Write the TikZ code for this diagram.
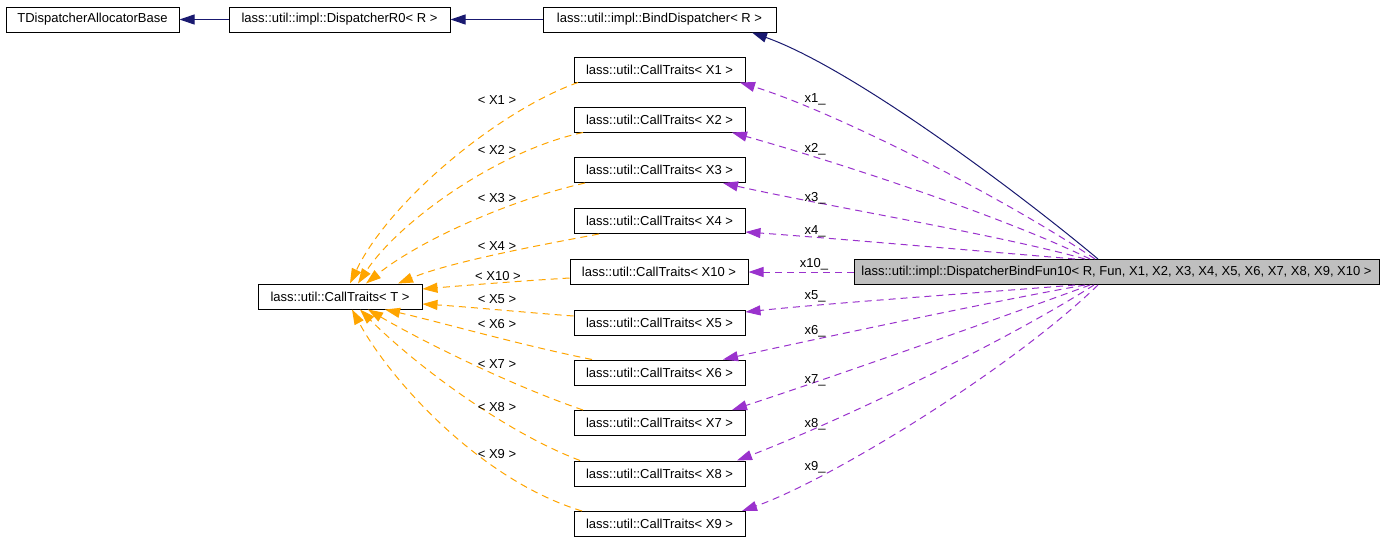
\documentclass[tikz,border=0pt]{standalone}
\usepackage{fontspec}
\setmainfont{Liberation Sans}
\usetikzlibrary{arrows.meta,calc}
\definecolor{navyc}{HTML}{191970}
\definecolor{orangec}{HTML}{FFA500}
\definecolor{purplec}{HTML}{9A32CD}
\definecolor{fillg}{HTML}{BFBFBF}
\begin{document}
\begin{tikzpicture}[x=1pt,y=-1pt,
  box/.style={draw=black, line width=1pt, inner sep=0pt, minimum height=25pt, font=\fontsize{13}{15}\selectfont, anchor=center},
  lbl/.style={inner sep=0pt, font=\fontsize{13}{15}\selectfont},
  tip/.style={-{Triangle[length=15pt,width=10pt]}},
  inh/.style={draw=navyc, line width=1pt, tip},
  usep/.style={draw=purplec, line width=1pt, dash pattern=on 7pt off 5pt, tip},
  tmpl/.style={draw=orangec, line width=1pt, dash pattern=on 7pt off 5pt, tip},
]
\useasboundingbox (0,0) rectangle (1384,544);
\fill[white] (0,0) rectangle (1384,544);

% nodes
\node[box, minimum width=173pt] (ta) at (92.5,19.5) {TDispatcherAllocatorBase};
\node[box, minimum width=221pt] (r0) at (339.5,19.5) {lass::util::impl::DispatcherR0< R >};
\node[box, minimum width=233pt] (bd) at (659.5,19.5) {lass::util::impl::BindDispatcher< R >};
\node[box, minimum width=171pt] (c1) at (659.5,69.5) {lass::util::CallTraits< X1 >};
\node[box, minimum width=171pt] (c2) at (659.5,119.5) {lass::util::CallTraits< X2 >};
\node[box, minimum width=171pt] (c3) at (659.5,170) {lass::util::CallTraits< X3 >};
\node[box, minimum width=171pt] (c4) at (659.5,221) {lass::util::CallTraits< X4 >};
\node[box, minimum width=178pt] (c10) at (659,272) {lass::util::CallTraits< X10 >};
\node[box, minimum width=171pt] (c5) at (659.5,322.5) {lass::util::CallTraits< X5 >};
\node[box, minimum width=171pt] (c6) at (659.5,372.5) {lass::util::CallTraits< X6 >};
\node[box, minimum width=171pt] (c7) at (659.5,423) {lass::util::CallTraits< X7 >};
\node[box, minimum width=171pt] (c8) at (659.5,473.5) {lass::util::CallTraits< X8 >};
\node[box, minimum width=171pt] (c9) at (659.5,524) {lass::util::CallTraits< X9 >};
\node[box, minimum width=164pt] (t) at (340,296.5) {lass::util::CallTraits< T >};
\node[box, minimum width=525pt, fill=fillg] (d) at (1116.5,272) {lass::util::impl::DispatcherBindFun10< R, Fun, X1, X2, X3, X4, X5, X6, X7, X8, X9, X10 >};

% inheritance
\draw[inh] (r0.west) -- (ta.east);
\draw[inh] (bd.west) -- (r0.east);
\draw[inh] (d.north -| 1098,0) .. controls (1018,192) and (852,68) .. (bd.south -| 752,0);

% usage (purple)
\draw[usep] (d.north -| 1095,0) .. controls (1000,195) and (830,110) .. (c1.south -| 740,0);
\draw[usep] (d.north -| 1090,0) .. controls (1000,215) and (830,160) .. (c2.south -| 732,0);
\draw[usep] (d.north -| 1085,0) .. controls (1000,235) and (820,205) .. (c3.south -| 723,0);
\draw[usep] (d.north -| 1075,0) .. controls (990,252) and (830,238) .. (c4.east |- 0,232);
\draw[usep] (d.west) -- (c10.east);
\draw[usep] (d.south -| 1075,0) .. controls (990,292) and (830,303) .. (c5.east |- 0,312);
\draw[usep] (d.south -| 1085,0) .. controls (1000,300) and (820,338) .. (c6.north -| 723,0);
\draw[usep] (d.south -| 1090,0) .. controls (1000,318) and (830,378) .. (c7.north -| 732,0);
\draw[usep] (d.south -| 1094,0) .. controls (1000,345) and (830,425) .. (c8.north -| 737,0);
\draw[usep] (d.south -| 1098,0) .. controls (1010,370) and (830,480) .. (c9.north -| 742,0);

\node[lbl] (l1) at (815,99) {x1\_};
\node[lbl] (l2) at (815,149) {x2\_};
\node[lbl] (l3) at (815,198) {x3\_};
\node[lbl] (l4) at (815,231) {x4\_};
\node[lbl] (l10) at (814,264) {x10\_};
\node[lbl] (l5) at (815,296) {x5\_};
\node[lbl] (l6) at (815,331) {x6\_};
\node[lbl] (l7) at (815,380) {x7\_};
\node[lbl] (l8) at (815,424) {x8\_};
\node[lbl] (l9) at (815,467) {x9\_};

% template (orange)
\draw[tmpl] (c1.south -| 578,0) .. controls (500,110) and (390,200) .. (t.north -| 350,0);
\draw[tmpl] (c2.south -| 583,0) .. controls (500,150) and (400,220) .. (t.north -| 358,0);
\draw[tmpl] (c3.south -| 585,0) .. controls (510,200) and (420,240) .. (t.north -| 366,0);
\draw[tmpl] (c4.south -| 599,0) .. controls (540,245) and (450,262) .. (t.north -| 398,0);
\draw[tmpl] (c10.west |- 0,278) .. controls (520,281) and (470,285) .. (t.east |- 0,289);
\draw[tmpl] (c5.west |- 0,316) .. controls (520,312) and (470,307) .. (t.east |- 0,304);
\draw[tmpl] (c6.north -| 592,0) .. controls (520,345) and (440,322) .. (t.south -| 385,0);
\draw[tmpl] (c7.north -| 583,0) .. controls (510,385) and (420,340) .. (t.south -| 368,0);
\draw[tmpl] (c8.north -| 580,0) .. controls (500,430) and (410,360) .. (t.south -| 360,0);
\draw[tmpl] (c9.north -| 582,0) .. controls (480,480) and (390,380) .. (t.south -| 352,0);

\node[lbl] (m1) at (497,100) {< X1 >};
\node[lbl] (m2) at (497,150) {< X2 >};
\node[lbl] (m3) at (497,198) {< X3 >};
\node[lbl] (m4) at (497,246) {< X4 >};
\node[lbl] (m10) at (498,276) {< X10 >};
\node[lbl] (m5) at (497,299) {< X5 >};
\node[lbl] (m6) at (497,324) {< X6 >};
\node[lbl] (m7) at (497,364) {< X7 >};
\node[lbl] (m8) at (497,407) {< X8 >};
\node[lbl] (m9) at (497,454) {< X9 >};
\end{tikzpicture}
\end{document}
